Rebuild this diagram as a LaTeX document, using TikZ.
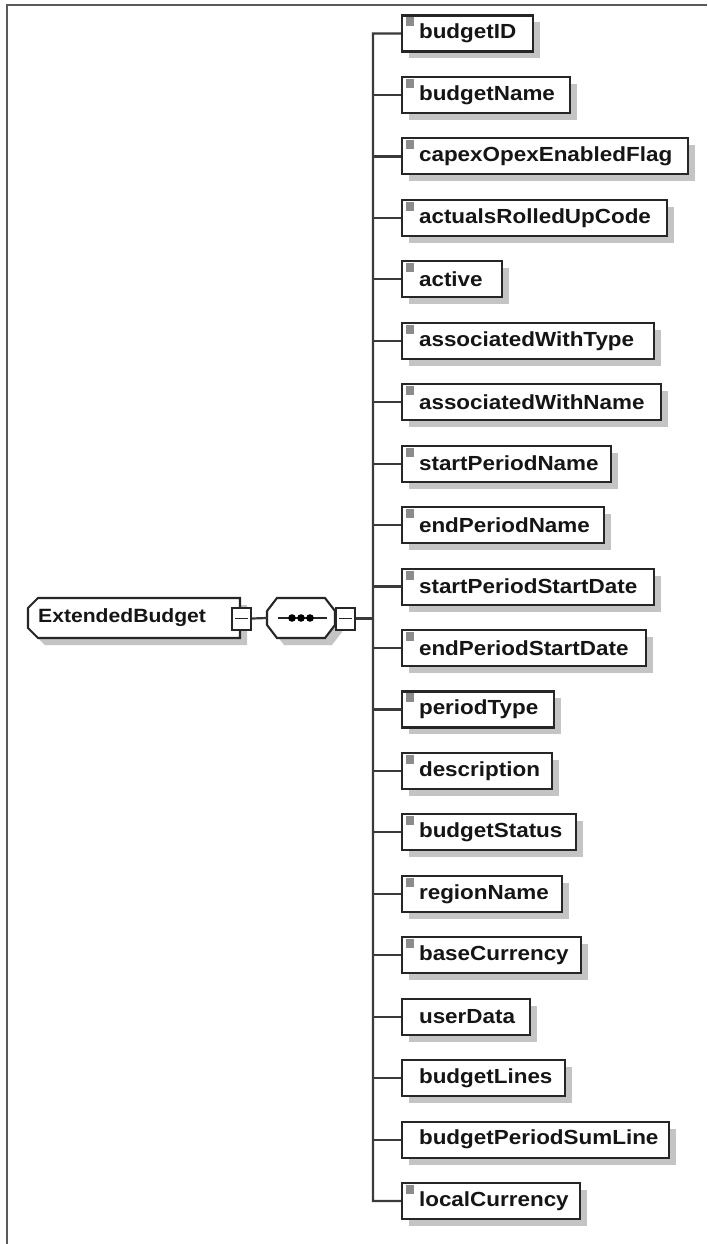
\documentclass[tikz,border=0pt]{standalone}
\usepackage{fontspec}
\setmainfont{Liberation Sans}[FakeStretch=1.1]
\usetikzlibrary{shadows}
\definecolor{linec}{HTML}{3A3A3A}
\definecolor{framec}{HTML}{5A5A5A}
\definecolor{shadowc}{HTML}{C4C4C4}
\definecolor{iconc}{HTML}{8C8C8C}
\definecolor{textc}{HTML}{151515}
\tikzset{
  conn/.style={draw=linec, line width=2.2pt},
  elem/.style={draw=black!85, line width=2.1pt, fill=white, rectangle, anchor=west,
    minimum height=36pt, inner sep=0pt, text=textc,
    font=\fontsize{20.4}{24}\selectfont\bfseries,
    drop shadow={shadow xshift=7pt, shadow yshift=-7pt, fill=shadowc, opacity=1}},
  minusbox/.style={draw=black!85, line width=2pt, fill=white, rectangle,
    minimum width=19pt, minimum height=22pt, inner sep=0pt},
  outline/.style={draw=black!85, line width=2.1pt, fill=white,
    drop shadow={shadow xshift=7pt, shadow yshift=-7pt, fill=shadowc, opacity=1}},
}
\begin{document}
\begin{tikzpicture}[x=1pt, y=-1pt]
\useasboundingbox[fill=white] (0,0) rectangle (707,1244);
% frame
\draw[framec, line width=2.6pt] (7,1244) -- (7,5) -- (707,5);

% child elements
\foreach \i/\w/\t/\ic in {
  0/131/budgetID/1,
  1/168/budgetName/1,
  2/286/capexOpexEnabledFlag/1,
  3/265/actualsRolledUpCode/1,
  4/100/active/1,
  5/252/associatedWithType/1,
  6/259/associatedWithName/1,
  7/209/startPeriodName/1,
  8/202/endPeriodName/1,
  9/252/startPeriodStartDate/1,
  10/244/endPeriodStartDate/1,
  11/152/periodType/1,
  12/150/description/1,
  13/174/budgetStatus/1,
  14/160/regionName/1,
  15/179/baseCurrency/1,
  16/128/userData/0,
  17/163/budgetLines/0,
  18/267/budgetPeriodSumLine/0,
  19/178/localCurrency/1}{
  \pgfmathsetmacro{\yy}{33.5+\i*61.45}
  \node[elem, minimum width=\w pt] (n\i) at (401,\yy)
    {\makebox[\w pt][l]{\hspace{17pt}\t}};
  \ifnum\ic=1
    \fill[iconc] ([xshift=5pt,yshift=-3pt]n\i.north west) rectangle ++(8pt,-9pt);
  \fi
}

% bus
\coordinate (busTop) at (373,33.5);
\coordinate (busBot) at (373,1201.05);
\draw[conn] (n0.west) -- (busTop) -- (busBot) -- (n19.west);
\foreach \i in {1,...,18}{
  \draw[conn] (n\i.west) -- (n\i.west -| busTop);
}

% root element
\draw[outline] (28,608) -- (38,598) -- (240,598) -- (240,638) -- (38,638) -- (28,628) -- cycle;
\node[anchor=west, inner sep=0pt, text=textc, font=\fontsize{19.2}{24}\selectfont\bfseries] (root) at (38,618) {ExtendedBudget};
\node[minusbox] (m1) at (241.5,618.5) {};
\draw[black!85, line width=1.8pt] ([xshift=4pt]m1.west) -- ([xshift=-4pt]m1.east);

% sequence compositor
\node[inner sep=0pt, minimum width=68pt, minimum height=40pt] (seq) at (301,618) {};
\draw[outline] (267,611) -- (277,598) -- (325,598) -- (335,611) -- (335,625) -- (325,638) -- (277,638) -- (267,625) -- cycle;
\draw[black!85, line width=2pt] (278,618) -- (327,618);
\foreach \dx in {292,301,310}{
  \fill[black] (\dx,618) circle (3.8pt);
}
\node[minusbox] (m2) at (345.5,618.5) {};
\draw[black!85, line width=1.8pt] ([xshift=4pt]m2.west) -- ([xshift=-4pt]m2.east);

% connectors
\draw[conn] (m1.east) -- (seq.west);
\draw[conn] (m2.east) -- (m2.east -| busTop);
\end{tikzpicture}
\end{document}
